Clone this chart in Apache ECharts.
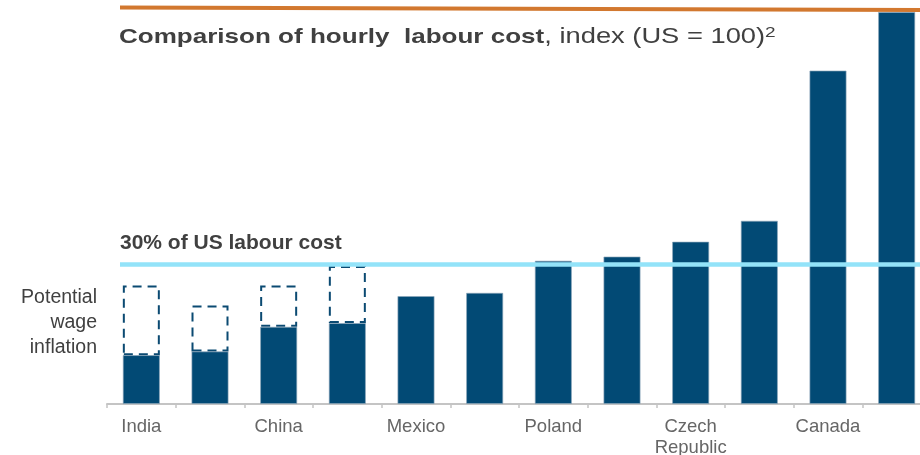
<!DOCTYPE html>
<html>
<head>
<meta charset="utf-8">
<script src="https://cdn.jsdelivr.net/npm/echarts@6/dist/echarts.min.js"></script>
<style>
  html, body { margin: 0; padding: 0; background: #ffffff; }
  #chart { width: 920px; height: 455px; }
</style>
</head>
<body>
<div id="chart"></div>
<script>
// Hourly labour cost index by country (US = 100); every other slot is labelled
const categories = ['India', '', 'China', '', 'Mexico', '', 'Poland', '', 'Czech\nRepublic', '', 'Canada', ''];
const labourIndex = [10.5, 11.3, 16.6, 17.4, 23.2, 23.9, 30.8, 31.7, 34.9, 39.4, 71.7, 84.3];
// Level reached once potential wage inflation is priced in (first four countries)
const potentialIndex = [25.5, 21.2, 25.5, 29.7, null, null, null, null, null, null, null, null];
const thresholdIndex = 30;
const thresholdLabel = '30% of US labour cost';
const sideNote = 'Potential\nwage\ninflation';

const FONT = '"Liberation Sans", Arial, sans-serif';
const BAR = '#024a75';

// Increment on top of the current level, drawn as a dashed outline
const inflationGap = potentialIndex.map((p, i) => (p == null ? '-' : +(p - labourIndex[i]).toFixed(2)));

const chart = echarts.init(document.getElementById('chart'), null, { renderer: 'canvas' });

const baseOption = {
  animation: false,
  backgroundColor: '#ffffff',
  // the plot runs a little past the right edge of the page
  grid: {
    left: 107, width: 824, top: 8.75, height: 395.25,
    containLabel: false, outerBoundsMode: 'none'
  },
  xAxis: {
    type: 'category',
    data: categories,
    boundaryGap: true,
    axisLine: { show: true, lineStyle: { color: '#c4c4c4', width: 2 } },
    axisTick: { show: true, interval: 0, length: 4, lineStyle: { color: '#c4c4c4', width: 1.5 } },
    axisLabel: {
      interval: 0,
      color: '#666666',
      fontFamily: FONT,
      fontSize: 18.5,
      lineHeight: 21,
      margin: 12.5
    },
    splitLine: { show: false }
  },
  yAxis: {
    type: 'value',
    min: 0,
    max: 85,
    show: false,
    splitLine: { show: false }
  },
  graphic: [
    {
      type: 'line',
      shape: { x1: 120, y1: 7.5, x2: 920, y2: 10 },
      style: { stroke: '#d2782f', lineWidth: 4 },
      z: 10
    },
    {
      type: 'group',
      x: 119,
      y: 37,
      scaleX: 1.27,
      children: [
        {
          type: 'text',
          x: 0,
          y: 0,
          style: {
            text: '{b|Comparison of hourly  labour cost}{r|, index (US = 100)}{s|2}',
            verticalAlign: 'middle',
            align: 'left',
            rich: {
              b: { fontFamily: FONT, fontSize: 20.5, fontWeight: 'bold', fill: '#404040' },
              r: { fontFamily: FONT, fontSize: 21.5, fill: '#404040' },
              s: { fontFamily: FONT, fontSize: 15, fill: '#404040', verticalAlign: 'top', padding: [0, 0, 8, 0] }
            }
          }
        }
      ]
    },
    {
      type: 'text',
      x: 97,
      y: 322.5,
      style: {
        text: sideNote,
        align: 'right',
        verticalAlign: 'middle',
        fontFamily: FONT,
        fontSize: 19.5,
        lineHeight: 25,
        fill: '#404040'
      }
    }
  ],
  series: [
    {
      name: 'Labour cost',
      type: 'bar',
      stack: 'cost',
      data: labourIndex,
      barWidth: 37,
      z: 3,
      itemStyle: { color: BAR, borderColor: 'rgba(140,165,185,0.8)', borderWidth: 0.8 }
    },
    {
      name: 'Potential wage inflation',
      type: 'bar',
      stack: 'cost',
      data: inflationGap,
      barWidth: 37,
      z: 2,
      itemStyle: {
        color: 'rgba(0,0,0,0)',
        borderColor: '#0b4a72',
        borderWidth: 2,
        borderType: [9, 6]
      }
    }
  ]
};

chart.setOption(baseOption);

// Reference line at 30% of US cost, placed through the value axis
const yLine = chart.convertToPixel({ yAxisIndex: 0 }, thresholdIndex);
chart.setOption({
  series: [
    {
      name: 'Labour cost',
      markLine: {
        silent: true,
        symbol: ['none', 'none'],
        z: 5,
        lineStyle: { color: '#93e3f9', width: 4.5, type: 'solid' },
        label: {
          show: true,
          position: 'insideStartTop',
          formatter: thresholdLabel,
          fontFamily: FONT,
          fontSize: 21,
          fontWeight: 'bold',
          color: '#404040',
          distance: [0, 11]
        },
        emphasis: { disabled: true },
        data: [[{ x: 120, y: yLine }, { x: 920, y: yLine }]]
      }
    }
  ]
});
</script>
</body>
</html>
